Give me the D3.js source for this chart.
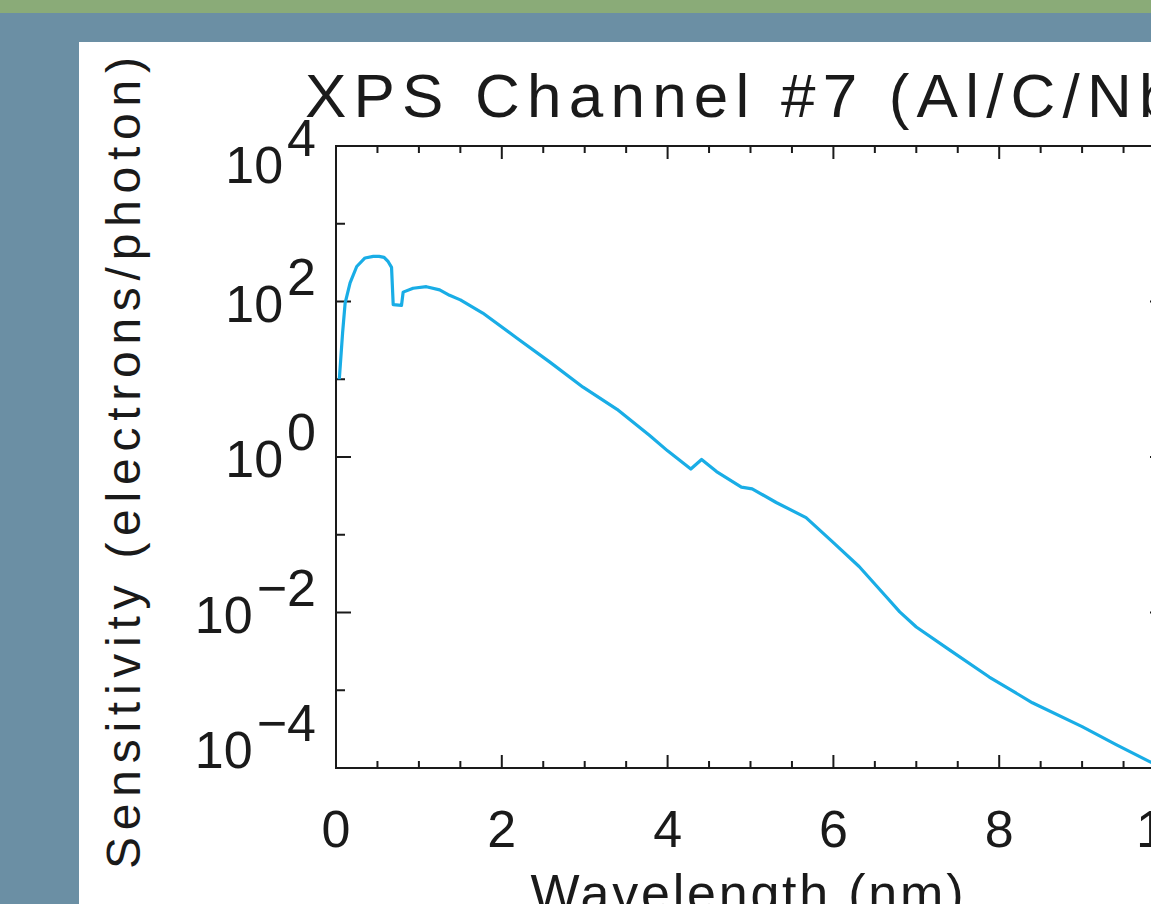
<!DOCTYPE html>
<html>
<head>
<meta charset="utf-8">
<script src="https://cdn.jsdelivr.net/npm/d3@7"></script>
<style>
  html, body { margin: 0; padding: 0; background: #6b8fa4; overflow: hidden; }
  svg { display: block; }
  text { font-family: "Liberation Sans", Arial, sans-serif; fill: #1a1a1a; }
</style>
</head>
<body>
<svg id="chart" width="1151" height="904"></svg>
<script>
const wavelength = [0.04, 0.08, 0.11, 0.17, 0.25, 0.35, 0.45, 0.52, 0.58, 0.63, 0.67, 0.69, 0.79, 0.81,
    0.93, 1.09, 1.25, 1.37, 1.5, 1.77, 2.18, 2.58, 2.98, 3.39, 3.78, 4.0, 4.28, 4.41, 4.59, 4.89, 5.02,
    5.31, 5.67, 5.99, 6.31, 6.64, 6.80, 7.00, 7.40, 7.88, 8.40, 9.00, 9.41, 9.82, 10.0];
const sensitivity = [10, 40, 95, 174, 282, 363, 380, 380, 370, 325, 275, 91, 89, 132,
    148, 155, 141, 120, 105, 71, 34, 16.6, 7.9, 4.1, 1.9, 1.2, 0.70, 0.93, 0.65, 0.41, 0.39,
    0.26, 0.166, 0.081, 0.039, 0.0158, 0.0102, 0.0065, 0.0033, 0.00148, 6.9e-4, 3.4e-4, 2.0e-4, 1.2e-4, 1.0e-4];

const xMajorTicks = [0, 2, 4, 6, 8, 10];
const xMinorTicks = d3.range(0, 10.01, 0.5);
const yMajorExp = [4, 2, 0, -2, -4];
const yMinorExp = [3, 1, -1, -3];

const svg = d3.select("#chart"),
      width = +svg.attr("width"),
      height = +svg.attr("height");

// plot box (right edge runs past the window like the original)
const plotLeft = 336, plotRight = 1165, plotTop = 146, plotBottom = 768;

const x = d3.scaleLinear().domain([0, 10]).range([plotLeft, plotRight]);
const y = d3.scaleLog().domain([1e-4, 1e4]).range([plotBottom, plotTop]);

// backgrounds
svg.append("rect").attr("x", 0).attr("y", 0).attr("width", width).attr("height", 13).attr("fill", "#8aab78");
svg.append("rect").attr("x", 79).attr("y", 42).attr("width", width - 79).attr("height", height - 42).attr("fill", "#ffffff");

const ink = "#1a1a1a";

// frame
svg.append("rect")
    .attr("x", plotLeft).attr("y", plotTop)
    .attr("width", plotRight - plotLeft).attr("height", plotBottom - plotTop)
    .attr("fill", "none").attr("stroke", ink).attr("stroke-width", 2);

// x ticks, bottom and top, pointing inward
const xt = svg.append("g").attr("stroke", ink).attr("stroke-width", 2);
xMinorTicks.forEach(v => {
    const len = (v % 2 === 0) ? 13 : 7;
    xt.append("line").attr("x1", x(v)).attr("x2", x(v)).attr("y1", plotBottom).attr("y2", plotBottom - len);
    xt.append("line").attr("x1", x(v)).attr("x2", x(v)).attr("y1", plotTop).attr("y2", plotTop + len);
});

// y ticks, left and right
const yt = svg.append("g").attr("stroke", ink).attr("stroke-width", 2);
yMajorExp.concat(yMinorExp).forEach(e => {
    const len = yMajorExp.includes(e) ? 15 : 9;
    const py = y(Math.pow(10, e));
    yt.append("line").attr("x1", plotLeft).attr("x2", plotLeft + len).attr("y1", py).attr("y2", py);
    yt.append("line").attr("x1", plotRight).attr("x2", plotRight - len).attr("y1", py).attr("y2", py);
});

// x tick labels
svg.append("g").selectAll("text")
    .data(xMajorTicks)
    .enter().append("text")
    .attr("x", d => x(d))
    .attr("y", 847)
    .attr("text-anchor", "middle")
    .style("font-size", "52px")
    .text(d => d);

// y tick labels as 10 with raised exponent, kept inside the axis range
const yLab = svg.append("g").selectAll("text")
    .data(yMajorExp)
    .enter().append("text")
    .attr("x", 316)
    .attr("y", d => Math.min(Math.max(y(Math.pow(10, d)) + 20, plotTop + 37), plotBottom))
    .attr("text-anchor", "end")
    .style("font-size", "52px");
yLab.append("tspan").text("10");
yLab.append("tspan").attr("dx", 4).attr("dy", -27).text(d => (d < 0 ? "\u2212" + (-d) : "" + d));

// the curve
const line = d3.line()
    .x((d, i) => x(wavelength[i]))
    .y(d => y(d));

svg.append("path")
    .datum(sensitivity)
    .attr("d", line)
    .attr("fill", "none")
    .attr("stroke", "#19ade6")
    .attr("stroke-width", 3.2)
    .attr("stroke-linejoin", "round");

// title, spaced out so "N" lands where the original has it
const title = svg.append("text")
    .attr("x", 305)
    .attr("y", 117)
    .style("font-size", "62px")
    .text("XPS Channel #7 (Al/C/Nb)");
const nPos = title.node().getStartPositionOfChar(21).x;
title.style("letter-spacing", ((1087 - nPos) / 21) + "px");

// axis titles
svg.append("text")
    .attr("x", 747)
    .attr("y", 911)
    .attr("text-anchor", "middle")
    .attr("textLength", 433)
    .attr("lengthAdjust", "spacing")
    .style("font-size", "52px")
    .text("Wavelength (nm)");

svg.append("text")
    .attr("transform", "translate(140,463) rotate(-90)")
    .attr("text-anchor", "middle")
    .attr("textLength", 812)
    .attr("lengthAdjust", "spacing")
    .style("font-size", "48px")
    .text("Sensitivity (electrons/photon)");
</script>
</body>
</html>
